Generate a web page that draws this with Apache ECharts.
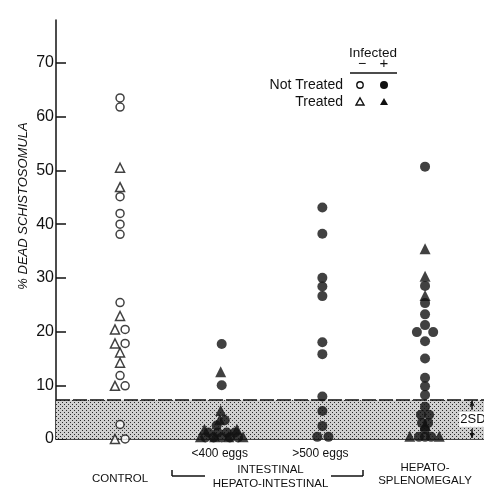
<!DOCTYPE html>
<html>
<head>
<meta charset="utf-8">
<script src="https://cdn.jsdelivr.net/npm/echarts@6/dist/echarts.min.js"></script>
<style>
  html, body { margin: 0; padding: 0; background: #fff; }
  #chart { width: 484px; height: 494px; }
</style>
</head>
<body>
<div id="chart"></div>
<script>
// groups along the x axis (value positions)
const groupLabels = ['CONTROL', '<400 eggs', '>500 eggs', 'HEPATO-SPLENOMEGALY']
const groupPos = [1, 2, 3, 4]
const yTicks = [0, 10, 20, 30, 40, 50, 60, 70]
const sdBand = 7.3

// control group (uninfected)
const ctrlNotTreatedY = [63.5, 61.8, 45.1, 42.0, 40.0, 38.1, 25.4, 20.4, 17.8, 11.8, 9.9, 2.7, 0]
const ctrlNotTreatedDx = [0, 0, 0, 0, 0, 0, 0, 0.05, 0.05, 0, 0.05, 0, 0.05]
const ctrlTreatedY = [50.5, 46.9, 22.9, 20.4, 17.8, 16.1, 14.2, 9.9, 0]
const ctrlTreatedDx = [0, 0, 0, -0.05, -0.05, 0, 0, -0.05, -0.05]

// intestinal <400 eggs (infected)
const lowNotTreatedY = [17.7, 10.0, 3.5, 2.5, 1.2, 1.2, 1.2, 1.2, 0.3, 0.3, 0.3, 0.3, 0.3]
const lowNotTreatedDx = [0, 0, 0.03, -0.05, -0.13, -0.04, 0.05, 0.13, -0.16, -0.08, 0, 0.08, 0.16]
const lowTreatedY = [12.5, 5.3, 3.6, 1.8, 1.8, 0.4, 0.4, 0.4, 0.4]
const lowTreatedDx = [-0.01, -0.01, -0.02, -0.17, 0.15, -0.21, -0.07, 0.07, 0.21]

// hepato-intestinal >500 eggs (infected)
const highNotTreatedY = [43.1, 38.2, 30.0, 28.4, 26.6, 18.0, 15.8, 7.9, 5.2, 2.4, 0.4, 0.4]
const highNotTreatedDx = [-0.01, -0.01, -0.01, -0.01, -0.01, -0.01, -0.01, -0.01, -0.01, -0.01, -0.06, 0.05]

// hepato-splenomegaly (infected)
const splNotTreatedY = [50.7, 28.5, 25.3, 23.2, 21.2, 19.9, 19.9, 18.2, 15.0, 11.4, 9.8, 8.2, 6.0, 4.5, 4.5, 3.0, 3.0, 1.8, 0.4, 0.4, 0.4]
const splNotTreatedDx = [0, 0, 0, 0, 0, -0.08, 0.08, 0, 0, 0, 0, 0, 0, -0.04, 0.04, -0.03, 0.03, 0, -0.06, 0, 0.06]
const splTreatedY = [35.4, 30.3, 26.7, 2.5, 0.5, 0.5]
const splTreatedDx = [0, 0, 0, 0, -0.15, 0.14]

const pts = (g, ys, dxs) => ys.map((y, i) => [groupPos[g] + (dxs[i] || 0), y])

const ink = '#111'
const font = 'Liberation Sans'

// dotted fill for the 2SD band
function dotPattern() {
  const c = document.createElement('canvas')
  c.width = 4
  c.height = 4
  const ctx = c.getContext('2d')
  ctx.fillStyle = '#cfcfcf'
  ctx.fillRect(0, 0, 4, 4)
  ctx.fillStyle = '#2a2a2a'
  ctx.fillRect(0, 0, 1, 1)
  ctx.fillRect(2, 2, 1, 1)
  return c
}

const openStyle = { color: '#fff', borderColor: ink, borderWidth: 1.5 }
const fillStyle = { color: ink }

const chart = echarts.init(document.getElementById('chart'), null, { renderer: 'canvas' })

chart.setOption({
  animation: false,
  backgroundColor: '#fff',
  grid: { left: 56, right: 0, top: 20, bottom: 55 },
  xAxis: {
    type: 'value',
    min: 0.37,
    max: 4.58,
    axisLine: { show: true, lineStyle: { color: ink, width: 1.5 } },
    axisTick: { show: false },
    axisLabel: { show: false },
    splitLine: { show: false }
  },
  yAxis: {
    type: 'value',
    min: 0,
    max: 78,
    axisLine: { show: true, lineStyle: { color: ink, width: 1.5 } },
    axisTick: { show: true, inside: true, length: 10, customValues: yTicks, lineStyle: { color: ink, width: 1.5 } },
    axisLabel: { show: true, customValues: yTicks, margin: 2, color: ink, fontFamily: font, fontSize: 16 },
    splitLine: { show: false }
  },
  series: [
    {
      // shaded normal range (2SD)
      type: 'scatter',
      data: [],
      z: 1,
      markArea: {
        silent: true,
        itemStyle: { color: { image: dotPattern(), repeat: 'repeat' } },
        data: [[{ yAxis: 0 }, { yAxis: sdBand }]]
      },
      markLine: {
        silent: true,
        symbol: 'none',
        label: { show: false },
        lineStyle: { color: ink, width: 1.5, type: [14, 3] },
        data: [{ yAxis: sdBand }]
      }
    },
    {
      name: 'Not Treated -',
      type: 'scatter',
      z: 3,
      symbol: 'circle',
      symbolSize: 8,
      itemStyle: openStyle,
      data: pts(0, ctrlNotTreatedY, ctrlNotTreatedDx)
    },
    {
      name: 'Treated -',
      type: 'scatter',
      z: 3,
      symbol: 'triangle',
      symbolSize: 9,
      itemStyle: openStyle,
      data: pts(0, ctrlTreatedY, ctrlTreatedDx)
    },
    {
      name: 'Not Treated +',
      type: 'scatter',
      z: 3,
      symbol: 'circle',
      symbolSize: 10,
      itemStyle: fillStyle,
      data: pts(1, lowNotTreatedY, lowNotTreatedDx)
        .concat(pts(2, highNotTreatedY, highNotTreatedDx))
        .concat(pts(3, splNotTreatedY, splNotTreatedDx))
    },
    {
      name: 'Treated +',
      type: 'scatter',
      z: 4,
      symbol: 'triangle',
      symbolSize: 11,
      itemStyle: fillStyle,
      data: pts(1, lowTreatedY, lowTreatedDx).concat(pts(3, splTreatedY, splTreatedDx))
    }
  ]
})

// text and annotations placed from the axis scales
const px = (x, y) => chart.convertToPixel({ gridIndex: 0 }, [x, y])
const txt = (x, y, text, size, extra) => ({
  type: 'text', x: x, y: y, z: 10,
  style: Object.assign({ text: text, fill: ink, font: size + 'px "' + font + '"', align: 'center', verticalAlign: 'middle' }, extra || {})
})
const seg = (x1, y1, x2, y2) => ({
  type: 'line', z: 10, shape: { x1: x1, y1: y1, x2: x2, y2: y2 }, style: { stroke: ink, lineWidth: 1.5 }
})

const cx = groupPos.map(g => px(g, 0)[0])
const yTop = px(1, sdBand)[1]
const yZero = px(1, 0)[1]
const sdX = 472

const graphics = [
  // y axis title
  Object.assign(txt(23, 206, '% DEAD SCHISTOSOMULA', 13, { font: 'italic 13px "' + font + '"' }), { rotation: Math.PI / 2 }),
  // sub group labels
  txt(cx[1] - 2, 454, groupLabels[1], 12),
  txt(cx[2] - 3, 454, groupLabels[2], 12),
  txt(cx[0], 479, groupLabels[0], 11.5),
  txt((cx[1] + cx[2]) / 2 - 2, 470, 'INTESTINAL', 11.5),
  txt((cx[1] + cx[2]) / 2 - 2, 484, 'HEPATO-INTESTINAL', 11.5),
  txt(cx[3], 468, 'HEPATO-', 11.5),
  txt(cx[3], 481, 'SPLENOMEGALY', 11.5),
  // bracket under the intestinal groups
  seg(172, 476, 205, 476), seg(172, 470, 172, 476),
  seg(331, 476, 363, 476), seg(363, 470, 363, 476),
  // 2SD marker
  txt(sdX + 1, (yTop + yZero) / 2, '2SD', 13, { backgroundColor: '#fff', padding: [1, 1] }),
  seg(sdX, yTop + 1, sdX, yTop + 10), seg(sdX, yZero - 10, sdX, yZero - 1),
  { type: 'polygon', z: 10, shape: { points: [[sdX - 2.5, yTop + 6], [sdX + 2.5, yTop + 6], [sdX, yTop + 1]] }, style: { fill: ink } },
  { type: 'polygon', z: 10, shape: { points: [[sdX - 2.5, yZero - 6], [sdX + 2.5, yZero - 6], [sdX, yZero - 1]] }, style: { fill: ink } },
  // legend table
  txt(373, 53, 'Infected', 13.5),
  txt(362, 64, '\u2212', 14),
  txt(384, 64, '+', 15),
  seg(350, 73, 397, 73),
  txt(343, 85, 'Not Treated', 14, { align: 'right' }),
  txt(343, 102, 'Treated', 14, { align: 'right' }),
  { type: 'circle', z: 10, shape: { cx: 360, cy: 85, r: 3.2 }, style: { fill: '#fff', stroke: ink, lineWidth: 1.4 } },
  { type: 'circle', z: 10, shape: { cx: 384, cy: 85, r: 4 }, style: { fill: ink } },
  { type: 'polygon', z: 10, shape: { points: [[356, 105], [364, 105], [360, 98]] }, style: { fill: '#fff', stroke: ink, lineWidth: 1.4 } },
  { type: 'polygon', z: 10, shape: { points: [[380, 105], [388, 105], [384, 98]] }, style: { fill: ink } }
]

chart.setOption({ graphic: graphics })
</script>
</body>
</html>
